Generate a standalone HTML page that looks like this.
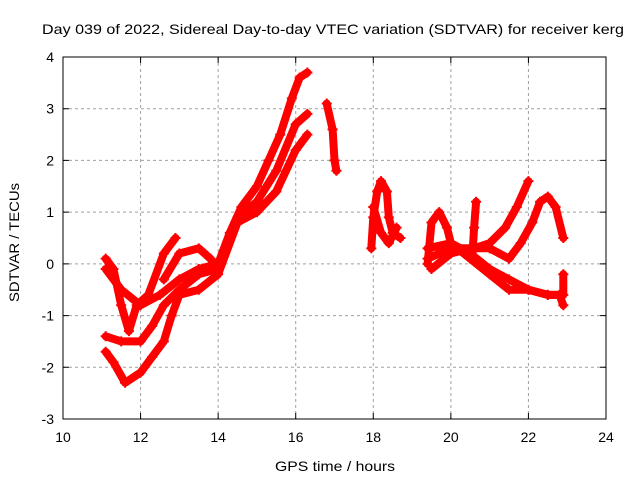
<!DOCTYPE html>
<html><head><meta charset="utf-8"><style>
body{margin:0;background:#fff;}
svg{display:block;font-family:"Liberation Sans",sans-serif;}
</style></head><body>
<svg id="chart" width="640" height="480" viewBox="0 0 640 480">
<text x="42" y="34" font-size="14" textLength="582" lengthAdjust="spacingAndGlyphs">Day 039 of 2022, Sidereal Day-to-day VTEC variation (SDTVAR) for receiver kerg</text>
<text x="275" y="471" font-size="14" textLength="120" lengthAdjust="spacingAndGlyphs">GPS time / hours</text>
<text x="0" y="0" font-size="14" textLength="119" lengthAdjust="spacingAndGlyphs" transform="translate(19 302) rotate(-90)">SDTVAR / TECUs</text>
<g id="grid"></g>
<g id="marks"></g>
<rect x="63" y="57" width="543" height="362" fill="none" stroke="#000" stroke-width="1"/>
<g id="ticks"></g>
</svg>
<script>
const xTicks=[10,12,14,16,18,20,22,24];
const yTicks=[-3,-2,-1,0,1,2,3,4];
const trackA_t=[11.1,11.5,12,12.5,13,13.5,14,14.3,14.6,15,15.3,15.6,15.9,16.1,16.3];
const trackA_v=[-0.1,-0.5,-0.8,-0.6,-0.3,-0.1,0,0.6,1.1,1.5,2,2.5,3.2,3.6,3.7];
const trackB_t=[11.1,11.5,12,12.3,12.6,13,13.5,14,14.5,15,15.5,16,16.3];
const trackB_v=[-1.4,-1.5,-1.5,-1.2,-0.8,-0.5,-0.2,-0.1,0.9,1.2,1.8,2.7,2.9];
const trackC_t=[11.1,11.3,11.6,12,12.3,12.6,12.8,13,13.5,14,14.5,15,15.5,16,16.3];
const trackC_v=[-1.7,-1.9,-2.3,-2.1,-1.8,-1.5,-1,-0.6,-0.5,-0.2,0.8,1,1.4,2.2,2.5];
const trackD_t=[11.1,11.3,11.5,11.7,11.9,12.2,12.6,12.9];
const trackD_v=[0.1,-0.1,-0.8,-1.3,-0.8,-0.6,0.2,0.5];
const trackE_t=[12.6,13,13.5,13.8,14];
const trackE_v=[-0.3,0.2,0.3,0.1,-0.1];
const trackF_t=[16.8,16.95,17,17.05];
const trackF_v=[3.1,2.6,2,1.8];
const trackG_t=[17.95,18,18.1,18.2,18.35,18.4,18.5,18.7];
const trackG_v=[0.3,0.9,1.4,1.6,1.4,0.9,0.6,0.5];
const trackH_t=[18,18.2,18.4,18.6];
const trackH_v=[1.1,0.6,0.4,0.7];
const trackI_t=[19.4,19.5,19.7,19.9,20,20.5,21,21.5,22,22.5,22.8,22.9];
const trackI_v=[0,0.8,1,0.7,0.4,0.2,-0.1,-0.3,-0.5,-0.6,-0.6,-0.8];
const trackJ_t=[19.4,20,20.5,21,21.5,22,22.5,22.9,22.9];
const trackJ_v=[0.3,0.4,0.1,-0.2,-0.5,-0.5,-0.6,-0.6,-0.2];
const trackK_t=[19.4,20,20.6,21,21.4,21.7,22];
const trackK_v=[0.1,0.3,0.3,0.4,0.7,1.1,1.6];
const trackL_t=[19.5,20,20.5,21,21.5,21.8,22.1,22.3,22.5,22.7,22.9];
const trackL_v=[-0.1,0.2,0.3,0.3,0.1,0.4,0.8,1.2,1.3,1.1,0.5];
const trackM_t=[20.55,20.6,20.65];
const trackM_v=[0.1,0.7,1.2];
const tracks=[[trackA_t,trackA_v],[trackB_t,trackB_v],[trackC_t,trackC_v],[trackD_t,trackD_v],[trackE_t,trackE_v],[trackF_t,trackF_v],[trackG_t,trackG_v],[trackH_t,trackH_v],[trackI_t,trackI_v],[trackJ_t,trackJ_v],[trackK_t,trackK_v],[trackL_t,trackL_v],[trackM_t,trackM_v]];
const NS='http://www.w3.org/2000/svg';
const X=t=>63+(t-10)*(543/14);
const Y=v=>57+(4-v)*(362/7);
const grid=document.getElementById('grid'),ticks=document.getElementById('ticks'),marks=document.getElementById('marks');
function mk(tag,at,parent){const e=document.createElementNS(NS,tag);for(const k in at)e.setAttribute(k,at[k]);parent.appendChild(e);return e;}
xTicks.forEach(t=>{
 if(t>10&&t<24){const g=mk('line',{x1:X(t),x2:X(t),y1:57,y2:419,stroke:'#a0a0a0','stroke-dasharray':'3,3'},grid);
 
 }
 const tk=mk('path',{d:`M${X(t)},419v-6M${X(t)},57v6`,stroke:'#000'},ticks);
 
 
 const l=mk('text',{x:X(t),y:442,'font-size':14,'text-anchor':'middle'},ticks);l.textContent=t;
 
 
});
yTicks.forEach(v=>{
 if(v>-3&&v<4){const g=mk('line',{x1:63,x2:606,y1:Y(v),y2:Y(v),stroke:'#a0a0a0','stroke-dasharray':'3,3'},grid);
 
 }
 const tk=mk('path',{d:`M63,${Y(v)}h6M606,${Y(v)}h-6`,stroke:'#000'},ticks);
 
 
 const l=mk('text',{x:54,y:Y(v)+5,'font-size':14,'text-anchor':'end'},ticks);l.textContent=v;
 
 
});
tracks.forEach(([ts,vs])=>{
 let d='';ts.forEach((t,i)=>{d+=(i?'L':'M')+X(t).toFixed(1)+','+Y(vs[i]).toFixed(1);});
 const p=mk('path',{d:d,fill:'none',stroke:'#ff0000','stroke-width':8,'stroke-linejoin':'round','stroke-linecap':'round'},marks);
 
 
 ts.forEach((t,i)=>{
  const m=mk('path',{d:`M${X(t)-5},${Y(vs[i])}h10M${X(t)},${Y(vs[i])-5}v10`,stroke:'#ff0000','stroke-width':2},marks);
  
  
 });
});
</script>
</body></html>
